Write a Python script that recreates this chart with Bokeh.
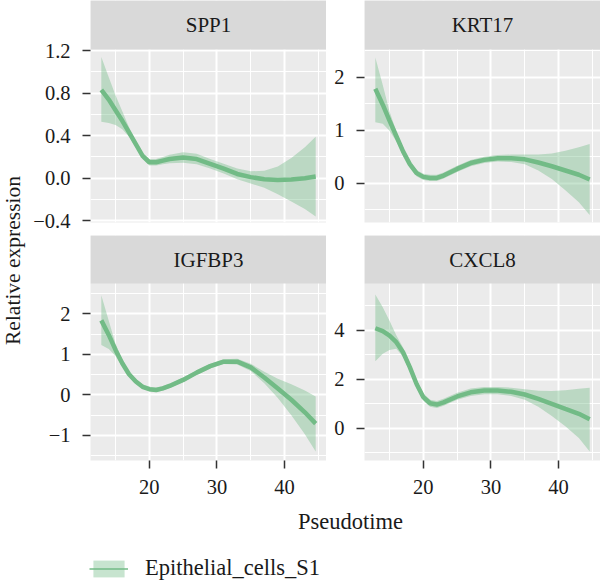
from math import pi

from bokeh.plotting import figure
from bokeh.layouts import row, column
from bokeh.models import Range1d, FixedTicker, Label, Legend, LegendItem, ColumnDataSource, BoxAnnotation
from bokeh.embed import file_html
from bokeh.resources import INLINE

# ---- data -------------------------------------------------------------
pseudotime = [12.9, 14, 15, 16, 17, 18, 19, 20, 21, 22, 23, 25, 27, 29, 31, 33, 35, 37, 39, 41, 43, 44.6]

spp1_fit = [0.83, 0.74, 0.64, 0.54, 0.43, 0.32, 0.21, 0.15, 0.15, 0.165, 0.18, 0.195, 0.18, 0.135,
            0.09, 0.04, 0.01, -0.01, -0.016, -0.013, 0.0, 0.016]
spp1_upper = [1.14, 0.95, 0.78, 0.63, 0.48, 0.35, 0.24, 0.18, 0.18, 0.20, 0.22, 0.245, 0.23, 0.18,
              0.135, 0.09, 0.065, 0.07, 0.11, 0.19, 0.29, 0.39]
spp1_lower = [0.53, 0.52, 0.50, 0.46, 0.39, 0.29, 0.18, 0.12, 0.12, 0.13, 0.14, 0.145, 0.13, 0.09,
              0.045, -0.01, -0.05, -0.09, -0.15, -0.22, -0.29, -0.36]

krt17_fit = [1.78, 1.48, 1.18, 0.89, 0.60, 0.36, 0.19, 0.12, 0.10, 0.10, 0.145, 0.27, 0.38, 0.44,
             0.47, 0.47, 0.45, 0.39, 0.32, 0.24, 0.16, 0.07]
krt17_upper = [2.37, 1.85, 1.35, 0.98, 0.67, 0.42, 0.25, 0.18, 0.16, 0.16, 0.20, 0.33, 0.44, 0.50,
               0.53, 0.54, 0.54, 0.54, 0.56, 0.61, 0.68, 0.74]
krt17_lower = [1.15, 1.12, 0.99, 0.79, 0.53, 0.30, 0.13, 0.06, 0.04, 0.04, 0.09, 0.21, 0.32, 0.38,
               0.41, 0.40, 0.36, 0.24, 0.08, -0.13, -0.36, -0.60]

igfbp3_fit = [1.84, 1.48, 1.11, 0.78, 0.51, 0.33, 0.20, 0.14, 0.12, 0.16, 0.22, 0.37, 0.55, 0.71,
              0.82, 0.82, 0.68, 0.43, 0.16, -0.12, -0.43, -0.71]
igfbp3_upper = [2.46, 1.83, 1.26, 0.87, 0.58, 0.39, 0.26, 0.20, 0.18, 0.22, 0.28, 0.43, 0.61, 0.77,
                0.88, 0.89, 0.77, 0.57, 0.40, 0.26, 0.11, -0.04]
igfbp3_lower = [1.23, 1.13, 0.96, 0.69, 0.44, 0.27, 0.15, 0.09, 0.07, 0.11, 0.17, 0.32, 0.50, 0.65,
                0.76, 0.75, 0.59, 0.29, -0.08, -0.50, -0.97, -1.40]

cxcl8_fit = [4.09, 3.97, 3.79, 3.52, 3.11, 2.50, 1.81, 1.27, 1.02, 0.97, 1.06, 1.30, 1.47, 1.54,
             1.54, 1.49, 1.38, 1.20, 1.00, 0.79, 0.59, 0.37]
cxcl8_upper = [5.47, 4.95, 4.40, 3.80, 3.30, 2.68, 1.98, 1.42, 1.16, 1.11, 1.21, 1.45, 1.62, 1.69,
               1.69, 1.66, 1.59, 1.53, 1.52, 1.55, 1.61, 1.66]
cxcl8_lower = [2.74, 3.05, 3.20, 3.25, 2.92, 2.32, 1.64, 1.12, 0.88, 0.83, 0.92, 1.16, 1.32, 1.39,
               1.39, 1.32, 1.17, 0.88, 0.50, 0.08, -0.40, -0.95]

genes = ["SPP1", "KRT17", "IGFBP3", "CXCL8"]
series_name = "Epithelial_cells_S1"

# axis ticks / labels per facet
x_ticks = [20, 30, 40]
x_minor = [15, 25, 35, 45]
x_tick_labels = ["20", "30", "40"]

spp1_ticks = [-0.4, 0.0, 0.4, 0.8, 1.2]
spp1_minor = [-0.2, 0.2, 0.6, 1.0]
spp1_tick_labels = ["\u22120.4", "0.0", "0.4", "0.8", "1.2"]

krt17_ticks = [0, 1, 2]
krt17_minor = [-0.5, 0.5, 1.5, 2.5]
krt17_tick_labels = ["0", "1", "2"]

igfbp3_ticks = [-1, 0, 1, 2]
igfbp3_minor = [-1.5, -0.5, 0.5, 1.5, 2.5]
igfbp3_tick_labels = ["\u22121", "0", "1", "2"]

cxcl8_ticks = [0, 2, 4]
cxcl8_minor = [-1, 1, 3, 5]
cxcl8_tick_labels = ["0", "2", "4"]

# ---- style ------------------------------------------------------------
FONT = "Liberation Serif"
GREEN = "#72BB86"
PANEL_BG = "#EBEBEB"
STRIP_BG = "#D9D9D9"
TEXT = "#1A1A1A"

X_RANGE = (11.3, 46.2)
FRAME_W = 236


def make_panel(name, fit, upper, lower, yrange, yticks, yminor, ylabels,
               border_left, strip_h, panel_h, border_bottom, show_x):
    lo, hi = yrange
    top = hi + (hi - lo) * strip_h / panel_h   # strip sits above the data area
    p = figure(width=border_left + FRAME_W, height=strip_h + panel_h + border_bottom,
               x_range=Range1d(*X_RANGE), y_range=Range1d(lo, top),
               x_axis_location="below" if show_x else None,
               y_axis_location="left",
               output_backend="svg", toolbar_location=None,
               min_border=0, min_border_left=border_left,
               min_border_bottom=border_bottom, min_border_top=0, min_border_right=0,
               background_fill_color=PANEL_BG, border_fill_color="white",
               outline_line_color=None)

    src = ColumnDataSource(dict(x=pseudotime, fit=fit, upper=upper, lower=lower))
    p.varea(x="x", y1="lower", y2="upper", source=src, fill_color=GREEN, fill_alpha=0.4)
    p.line(x="x", y="fit", source=src, line_color=GREEN, line_width=4.5)

    # grids
    p.xgrid.ticker = FixedTicker(ticks=x_ticks, minor_ticks=x_minor)
    p.ygrid.ticker = FixedTicker(ticks=yticks, minor_ticks=yminor)
    for g in (p.xgrid, p.ygrid):
        g.grid_line_color = "white"
        g.grid_line_width = 2
        g.minor_grid_line_color = "white"
        g.minor_grid_line_width = 1

    # facet strip
    p.add_layout(BoxAnnotation(bottom=hi, fill_color=STRIP_BG, fill_alpha=1,
                               line_color=None))
    p.add_layout(Label(x=(X_RANGE[0] + X_RANGE[1]) / 2, y=(hi + top) / 2, text=name,
                       text_align="center", text_baseline="middle", text_font=FONT,
                       text_font_size="21px", text_color=TEXT))

    # y axis
    ya = p.yaxis[0]
    ya.ticker = FixedTicker(ticks=yticks, minor_ticks=yminor)
    ya.major_label_overrides = {t: s for t, s in zip(yticks, ylabels)}
    axes = [ya]
    if show_x:
        xa = p.xaxis[0]
        xa.ticker = FixedTicker(ticks=x_ticks, minor_ticks=x_minor)
        xa.major_label_overrides = {t: s for t, s in zip(x_ticks, x_tick_labels)}
        xa.major_label_standoff = 11
        axes.append(xa)
    for ax in axes:
        ax.axis_line_color = None
        ax.minor_tick_line_color = None
        ax.major_tick_in = 0
        ax.major_tick_out = 8
        ax.major_tick_line_color = "#333333"
        ax.major_tick_line_width = 1.5
        ax.major_label_text_font = FONT
        ax.major_label_text_font_size = "20.5px"
        ax.major_label_text_color = TEXT
    ya.major_label_standoff = 12
    return p


LEFT_A = 60   # left column border (tick labels)
LEFT_B = 38   # right column border

p1 = make_panel(genes[0], spp1_fit, spp1_upper, spp1_lower, (-0.417, 1.211),
                spp1_ticks, spp1_minor, spp1_tick_labels, LEFT_A, 49, 173, 13, False)
p2 = make_panel(genes[1], krt17_fit, krt17_upper, krt17_lower, (-0.74, 2.52),
                krt17_ticks, krt17_minor, krt17_tick_labels, LEFT_B, 49, 173, 13, False)
p3 = make_panel(genes[2], igfbp3_fit, igfbp3_upper, igfbp3_lower, (-1.62, 2.75),
                igfbp3_ticks, igfbp3_minor, igfbp3_tick_labels, LEFT_A, 48, 177, 45, True)
p4 = make_panel(genes[3], cxcl8_fit, cxcl8_upper, cxcl8_lower, (-1.32, 5.92),
                cxcl8_ticks, cxcl8_minor, cxcl8_tick_labels, LEFT_B, 48, 177, 45, True)

col_a = column(p1, p3, spacing=0)
col_b = column(p2, p4, spacing=0)

# y axis title
ylab = figure(width=30, height=505, x_range=Range1d(0, 30), y_range=Range1d(0, 505),
              x_axis_location=None, y_axis_location=None, output_backend="svg",
              toolbar_location=None, min_border=0, outline_line_color=None,
              background_fill_color="white", border_fill_color="white")
ylab.grid.visible = False
ylab.add_layout(Label(x=12, y=245, text="Relative expression", angle=pi / 2,
                      text_align="center", text_baseline="middle", text_font=FONT,
                      text_font_size="21.5px", text_color=TEXT))

# x axis title
xlab = figure(width=600, height=35, x_range=Range1d(0, 600), y_range=Range1d(0, 35),
              x_axis_location=None, y_axis_location=None, output_backend="svg",
              toolbar_location=None, min_border=0, outline_line_color=None,
              background_fill_color="white", border_fill_color="white")
xlab.grid.visible = False
xlab.add_layout(Label(x=350, y=19, text="Pseudotime", text_align="center",
                      text_baseline="middle", text_font=FONT,
                      text_font_size="22.5px", text_color=TEXT))

# legend strip; the key renderers reuse one series, drawn outside this figure's view
leg = figure(width=600, height=42, x_range=Range1d(0, 1), y_range=Range1d(0, 1),
             x_axis_location=None, y_axis_location=None, output_backend="svg",
             toolbar_location=None, min_border=0, outline_line_color=None,
             background_fill_color="white", border_fill_color="white")
leg.grid.visible = False
key_src = ColumnDataSource(dict(x=pseudotime, fit=spp1_fit, upper=spp1_upper, lower=spp1_lower))
key_band = leg.varea(x="x", y1="lower", y2="upper", source=key_src, fill_color=GREEN, fill_alpha=0.4)
key_line = leg.line(x="x", y="fit", source=key_src, line_color=GREEN, line_width=1.5)
legend = Legend(items=[LegendItem(label=series_name, renderers=[key_band, key_line])],
                location=(89, 1), glyph_width=39, glyph_height=21, label_height=21,
                label_standoff=17, padding=0, margin=0, spacing=0,
                border_line_color=None, background_fill_alpha=0,
                label_text_font=FONT, label_text_font_size="22.5px",
                label_text_color=TEXT)
leg.add_layout(legend)

layout = column(row(ylab, col_a, col_b, spacing=0), xlab, leg, spacing=0)

open("out.html", "w").write(file_html(layout, INLINE))
